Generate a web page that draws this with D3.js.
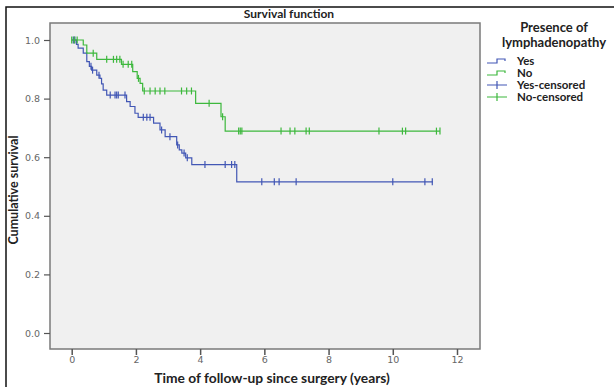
<!DOCTYPE html>
<html><head><meta charset="utf-8">
<script src="https://cdn.jsdelivr.net/npm/d3@7"></script>
<style>body{margin:0;background:#fff;}svg{display:block;}</style>
</head><body>
<svg id="c" width="614" height="387"></svg>
<script>
// ---- data ----
const seriesNames = ["Yes", "No"];
const legendLabels = ["Yes", "No", "Yes-censored", "No-censored"];
const xTicks = [0, 2, 4, 6, 8, 10, 12];
const yTicks = [0.0, 0.2, 0.4, 0.6, 0.8, 1.0];

// Yes (blue): event times and survival after each step
const yesTimes = [0, 0.15, 0.20, 0.36, 0.47, 0.55, 0.62, 0.78, 0.88, 0.93, 0.98, 1.09, 1.71, 1.82, 1.97, 2.07, 2.55, 2.75, 2.91, 3.27, 3.35, 3.43, 3.55, 3.74, 5.14];
const yesSurv  = [1.0, 0.985, 0.972, 0.955, 0.926, 0.91, 0.897, 0.88, 0.869, 0.85, 0.829, 0.812, 0.79, 0.773, 0.75, 0.736, 0.716, 0.693, 0.67, 0.642, 0.625, 0.614, 0.598, 0.575, 0.516];
const yesEnd = 11.25;
const yesCensored = [0.05, 0.10, 0.60, 0.65, 0.85, 1.20, 1.35, 1.40, 1.45, 1.66, 2.23, 2.34, 2.44, 2.80, 3.06, 3.30, 3.50, 3.60, 4.15, 4.78, 4.98, 5.08, 5.92, 6.31, 6.46, 6.99, 10.0, 11.0, 11.23];

// No (green)
const noTimes = [0, 0.36, 0.47, 0.78, 1.55, 1.90, 2.04, 2.13, 2.21, 3.86, 4.65, 4.78];
const noSurv  = [1.0, 0.983, 0.955, 0.934, 0.917, 0.892, 0.869, 0.852, 0.826, 0.784, 0.738, 0.689];
const noEnd = 11.47;
const noCensored = [0.0, 0.08, 0.17, 0.67, 1.09, 1.30, 1.40, 1.50, 1.60, 1.76, 1.87, 2.08, 2.26, 2.44, 2.60, 2.75, 2.90, 3.42, 3.58, 3.73, 4.28, 4.70, 5.20, 5.25, 5.30, 6.52, 6.80, 6.95, 7.30, 7.40, 9.57, 10.3, 10.4, 11.36, 11.47];

// ---- layout ----
const colors = {Yes: "#4257b5", No: "#3db83d"};
const svg = d3.select("#c");
const P = {l: 50, t: 23, r: 480, b: 349};
const x = d3.scaleLinear().domain([0, 12]).range([71.7, 457]);
const y = d3.scaleLinear().domain([0, 1]).range([333, 40]);
const FONT = "Lato, 'Open Sans', sans-serif";

// outer frame
svg.append("rect").attr("x", 6).attr("y", 7).attr("width", 640).attr("height", 420)
  .attr("fill", "none").attr("stroke", "#111").attr("stroke-width", 1.5);

// plot area
svg.append("rect").attr("x", P.l).attr("y", P.t).attr("width", P.r - P.l).attr("height", P.b - P.t)
  .attr("fill", "#f0f0f0").attr("stroke", "#7a7a7a").attr("stroke-width", 1.5);

// axes
const xAxis = d3.axisBottom(x).tickValues(xTicks).tickSize(6).tickSizeOuter(0).tickFormat(d3.format("d"));
const gx = svg.append("g").attr("transform", `translate(0,${P.b})`).call(xAxis);
gx.select(".domain").remove();
gx.selectAll(".tick line").attr("stroke", "#555").attr("stroke-width", 1.5);
gx.selectAll(".tick text").attr("fill", "#666").attr("font-size", 9.5).attr("font-family", "'DejaVu Sans', sans-serif").attr("dy", "0.55em");

const yAxis = d3.axisLeft(y).tickValues(yTicks).tickSize(6).tickSizeOuter(0).tickFormat(d3.format(".1f"));
const gy = svg.append("g").attr("transform", `translate(${P.l},0)`).call(yAxis);
gy.select(".domain").remove();
gy.selectAll(".tick line").attr("stroke", "#555").attr("stroke-width", 1.2);
gy.selectAll(".tick text").attr("fill", "#666").attr("font-size", 9.5).attr("font-family", "'DejaVu Sans', sans-serif").attr("dx", "-0.1em");

// curves
const series = [
  {name: "Yes", times: yesTimes, surv: yesSurv, end: yesEnd, cens: yesCensored},
  {name: "No", times: noTimes, surv: noSurv, end: noEnd, cens: noCensored}
];
const line = d3.line().x(d => x(d[0])).y(d => y(d[1])).curve(d3.curveStepAfter);
function survAt(s, t) {
  let v = s.surv[0];
  for (let i = 0; i < s.times.length; i++) if (s.times[i] <= t) v = s.surv[i];
  return v;
}
series.forEach(s => {
  const pts = s.times.map((t, i) => [t, s.surv[i]]);
  pts.push([s.end, s.surv[s.surv.length - 1]]);
  svg.append("path").attr("d", line(pts)).attr("fill", "none")
    .attr("stroke", colors[s.name]).attr("stroke-width", 1.2);
  svg.append("g").selectAll("line").data(s.cens).join("line")
    .attr("x1", d => x(d)).attr("x2", d => x(d))
    .attr("y1", d => y(survAt(s, d)) - 3.5).attr("y2", d => y(survAt(s, d)) + 3.5)
    .attr("stroke", colors[s.name]).attr("stroke-width", 1.2);
});

// titles
svg.append("text").attr("x", 289).attr("y", 18).attr("text-anchor", "middle")
  .attr("font-family", FONT).attr("font-weight", "bold").attr("font-size", 12).attr("fill", "#222")
  .text("Survival function");
svg.append("text").attr("x", 272).attr("y", 383).attr("text-anchor", "middle")
  .attr("font-family", FONT).attr("font-weight", "bold").attr("font-size", 13.8).attr("fill", "#222")
  .text("Time of follow-up since surgery (years)");
svg.append("text").attr("transform", "translate(18,190) rotate(-90)").attr("text-anchor", "middle")
  .attr("font-family", FONT).attr("font-weight", "bold").attr("font-size", 12.5).attr("fill", "#222")
  .text("Cumulative survival");

// legend
const lg = svg.append("g");
lg.append("text").attr("x", 554).attr("y", 32).attr("text-anchor", "middle")
  .attr("font-family", FONT).attr("font-weight", "bold").attr("font-size", 13).attr("fill", "#222").text("Presence of");
lg.append("text").attr("x", 554).attr("y", 47).attr("text-anchor", "middle")
  .attr("font-family", FONT).attr("font-weight", "bold").attr("font-size", 13).attr("fill", "#222").text("lymphadenopathy");
const legendColors = [colors.Yes, colors.No, colors.Yes, colors.No];
legendLabels.forEach((lab, i) => {
  const yy = 61 + i * 12;
  const c = legendColors[i];
  if (i < 2) {
    lg.append("path").attr("d", `M487,${yy + 2}H497V${yy - 2}H505V${yy}`)
      .attr("fill", "none").attr("stroke", c).attr("stroke-width", 1.2);
  } else {
    lg.append("path").attr("d", `M487,${yy}H507M497,${yy - 4}V${yy + 4}`)
      .attr("fill", "none").attr("stroke", c).attr("stroke-width", 1.2);
  }
  lg.append("text").attr("x", 517).attr("y", yy + 3.5)
    .attr("font-family", FONT).attr("font-weight", "bold").attr("font-size", 11.5).attr("fill", "#222").text(lab);
});
</script>
</body></html>
